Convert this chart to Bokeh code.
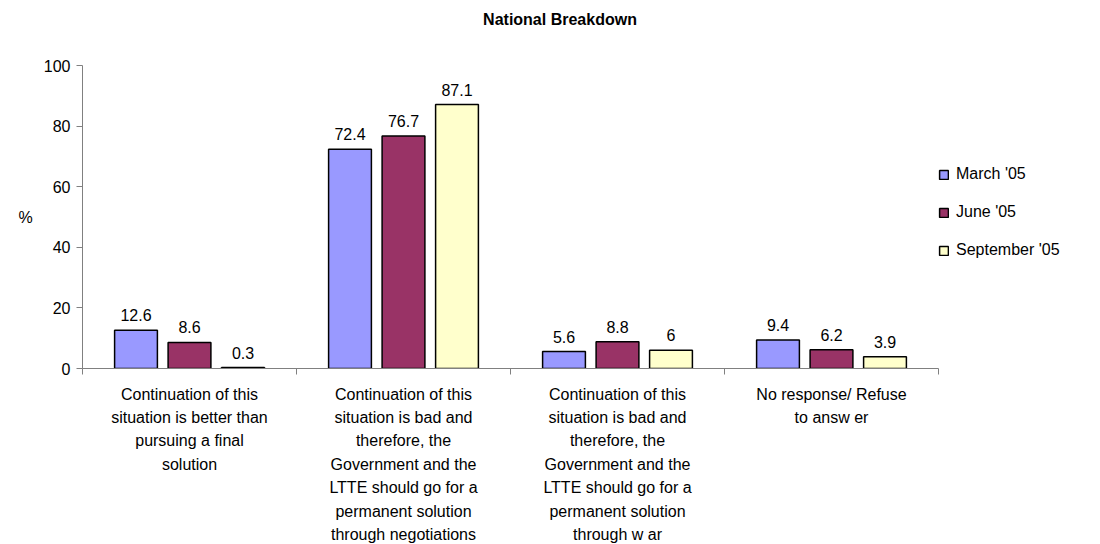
from bokeh.plotting import figure
from bokeh.models import ColumnDataSource, FixedTicker, Range1d, Legend, LegendItem, Div
from bokeh.layouts import column
from bokeh.core.properties import value
from bokeh.embed import file_html
from bokeh.resources import INLINE

title_text = "National Breakdown"
categories = [
    "Continuation of this\nsituation is better than\npursuing a final\nsolution",
    "Continuation of this\nsituation is bad and\ntherefore, the\nGovernment and the\nLTTE should go for a\npermanent solution\nthrough negotiations",
    "Continuation of this\nsituation is bad and\ntherefore, the\nGovernment and the\nLTTE should go for a\npermanent solution\nthrough w ar",
    "No response/ Refuse\nto answ er",
]
series_names = ["March '05", "June '05", "September '05"]
march = [12.6, 72.4, 5.6, 9.4]
june = [8.6, 76.7, 8.8, 6.2]
september = [0.3, 87.1, 6.0, 3.9]
colors = ["#9999FF", "#993366", "#FFFFCC"]

FONT = "Liberation Sans"

title_div = Div(
    text=('<div style="width:1040px;text-align:center;padding-left:80px;'
          'box-sizing:border-box;font-family:\'Liberation Sans\';font-weight:bold;'
          'font-size:16px;line-height:18px;padding-top:11px;color:black;">%s</div>' % title_text),
    width=1040, height=40, margin=(0, 0, 0, 0))

p = figure(frame_width=856, frame_height=303, output_backend="svg", toolbar_location=None,
           x_range=Range1d(0, 4), y_range=Range1d(0, 100),
           min_border_left=82, min_border_right=0, min_border_top=25, min_border_bottom=4,
           margin=(0, 0, 0, 0))

p.xgrid.visible = False
p.ygrid.visible = False
p.outline_line_color = None

offsets = [-0.25, 0.0, 0.25]
items = []
for k, (name, vals) in enumerate(zip(series_names, [march, june, september])):
    xs = [i + 0.5 + offsets[k] for i in range(len(vals))]
    src = ColumnDataSource(dict(x=xs, top=vals, lab=[("%g" % v) for v in vals]))
    r = p.vbar(x="x", top="top", bottom=0, width=0.2, source=src,
               fill_color=colors[k], line_color="black", line_width=1.5)
    p.text(x="x", y="top", text="lab", source=src, text_align="center",
           text_baseline="alphabetic", y_offset=-15, text_font=value(FONT),
           text_font_size="16px", text_color="black")
    items.append(LegendItem(label=name, renderers=[r]))

legend = Legend(items=items, location=(0, 109), border_line_color=None,
                label_text_font=FONT, label_text_font_size="16px", label_text_color="black",
                glyph_width=11, glyph_height=11, label_height=18, spacing=20,
                margin=0, padding=0, label_standoff=7, background_fill_alpha=0)
p.add_layout(legend, "right")

xa = p.xaxis[0]
xa.ticker = FixedTicker(ticks=[0.5, 1.5, 2.5, 3.5], minor_ticks=[0, 1, 2, 3, 4])
xa.major_label_overrides = {0.5: categories[0], 1.5: categories[1], 2.5: categories[2], 3.5: categories[3]}
xa.major_tick_line_color = None
xa.minor_tick_out = 6
xa.minor_tick_in = 0
xa.minor_tick_line_color = "#808080"
xa.axis_line_color = "#808080"
xa.major_label_text_font = FONT
xa.major_label_text_font_size = "16px"
xa.major_label_text_color = "black"
xa.major_label_text_line_height = 1.38
xa.major_label_standoff = 11

ya = p.yaxis[0]
ya.ticker = FixedTicker(ticks=[0, 20, 40, 60, 80, 100], minor_ticks=[])
ya.major_tick_out = 6
ya.major_tick_in = 0
ya.major_tick_line_color = "#808080"
ya.axis_line_color = "#808080"
ya.major_label_text_font = FONT
ya.major_label_text_font_size = "16px"
ya.major_label_text_color = "black"
ya.major_label_standoff = 6
ya.axis_label = "%"
ya.axis_label_text_font = FONT
ya.axis_label_text_font_size = "16px"
ya.axis_label_text_font_style = "normal"
ya.axis_label_text_color = "black"
ya.axis_label_standoff = 8
try:
    ya.axis_label_orientation = "horizontal"
except Exception:
    pass

layout = column(title_div, p, spacing=0)
open("out.html", "w").write(file_html(layout, INLINE))
